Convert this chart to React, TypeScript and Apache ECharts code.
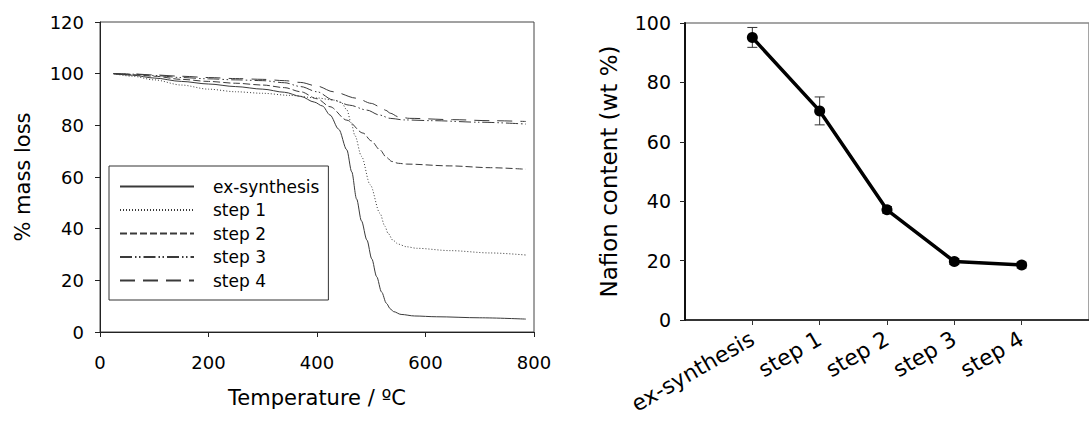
import React, { useEffect, useRef } from "react";
import * as echarts from "echarts";

// ---- Left panel: TGA curves (temperature °C, % mass) ----
const seriesNames = ["ex-synthesis", "step 1", "step 2", "step 3", "step 4"];

const exSynthesis: number[][] = [
  [25, 100], [60, 99.4], [100, 98.3], [150, 97], [200, 96], [250, 95], [300, 94],
  [340, 92.8], [370, 91.2], [395, 89], [410, 87.5], [424, 84], [440, 78.5],
  [455, 70.5], [464, 62], [473, 51.5], [482, 43], [492, 35.6], [501, 28.3],
  [510, 21.4], [519, 15.5], [528, 11.1], [535, 9], [541, 7.9], [555, 6.8],
  [580, 6.2], [620, 5.9], [700, 5.5], [785, 5],
];
const step1: number[][] = [
  [25, 100], [60, 99], [100, 97.6], [150, 95.6], [200, 94], [250, 93], [300, 92.4],
  [350, 91.6], [400, 90.6], [430, 89.8], [445, 88.8], [455, 86], [463, 81],
  [470, 76], [482, 68], [498, 57], [516, 46], [525, 41], [531, 38.2], [540, 35.5],
  [550, 34], [565, 33], [584, 32.4], [645, 31.5], [720, 30.6], [785, 29.8],
];
const step2: number[][] = [
  [25, 100], [60, 99.6], [100, 99], [150, 97.8], [200, 97], [250, 96.3], [300, 95.6],
  [340, 94.6], [370, 93], [400, 90.3], [424, 87.2], [455, 82], [485, 77], [500, 74],
  [516, 70.5], [528, 67.6], [538, 66], [550, 65.3], [565, 65], [645, 64.3],
  [720, 63.6], [785, 63],
];
const step3: number[][] = [
  [25, 100], [60, 99.8], [100, 99.3], [150, 98.5], [200, 98], [250, 97.6], [300, 97.3],
  [340, 96.5], [370, 95], [400, 93], [430, 89.8], [460, 87.8], [492, 85.9],
  [515, 84], [535, 82.7], [560, 82.1], [614, 81.8], [700, 81.2], [785, 80.5],
];
const step4: number[][] = [
  [25, 100], [60, 99.9], [100, 99.5], [150, 99], [200, 98.5], [250, 98.1], [300, 97.8],
  [340, 97.3], [370, 96.6], [400, 95.2], [430, 93], [473, 90.5], [500, 88.5],
  [516, 87.2], [527, 85.8], [535, 84.7], [550, 83.3], [571, 82.7], [650, 82.2],
  [720, 81.8], [785, 81.5],
];
const tgaData = [exSynthesis, step1, step2, step3, step4];
const dashTypes: any[] = ["solid", [1, 2], [7, 3], [12, 3, 1.5, 2.5, 1.5, 3], [15, 8]];

// ---- Right panel: Nafion content ----
const categories = ["ex-synthesis", "step 1", "step 2", "step 3", "step 4"];
const nafionContent = [95.1, 70.4, 37.1, 19.7, 18.5];
const errLow = [91.8, 65.7, 36.0, 18.7, 17.5];
const errHigh = [98.5, 75.1, 38.2, 20.7, 19.5];

export default function App() {
  const ref = useRef<HTMLDivElement>(null);
  useEffect(() => {
    if (!ref.current) return;
    const chart = echarts.init(ref.current, undefined, { renderer: "svg" });
    const font = "DejaVu Sans";
    const leftSeries = seriesNames.map((name, i) => ({
      name,
      type: "line",
      xAxisIndex: 0,
      yAxisIndex: 0,
      data: tgaData[i],
      symbol: "none",
      smooth: 0.3,
      smoothMonotone: "x",
      lineStyle: { color: "#3a3a3a", width: 1, type: dashTypes[i] },
      itemStyle: { color: "#3a3a3a" },
    }));
    const option: any = {
      animation: false,
      textStyle: { fontFamily: font, color: "#000" },
      grid: [
        { left: 100, top: 22, width: 434, height: 310, show: true, borderColor: "#444", borderWidth: 1 },
        { left: 685, top: 23, width: 414, height: 297, show: true, borderColor: "#888", borderWidth: 1.5 },
      ],
      legend: {
        data: seriesNames,
        orient: "vertical",
        left: 109,
        top: 166,
        itemWidth: 74,
        itemHeight: 12,
        itemGap: 6.5,
        padding: [12, 9, 11, 10],
        borderColor: "#333",
        borderWidth: 1,
        itemStyle: { opacity: 0 },
        textStyle: { fontSize: 17, color: "#000", fontFamily: font, padding: [0, 0, 0, 14], lineHeight: 17 },
      },
      xAxis: [
        {
          gridIndex: 0, type: "value", min: 0, max: 800, interval: 200,
          axisLine: { show: true, lineStyle: { color: "#222", width: 1 } },
          axisTick: { show: true, inside: false, length: 5, lineStyle: { color: "#222" } },
          splitLine: { show: false },
          axisLabel: { fontSize: 18, color: "#000", margin: 21, fontFamily: font },
          name: "Temperature / ºC", nameLocation: "middle", nameGap: 55,
          nameTextStyle: { fontSize: 21, color: "#000", fontFamily: font },
        },
        {
          gridIndex: 1, type: "value", min: 0, max: 6, interval: 1,
          axisLine: { show: true, onZero: false, lineStyle: { color: "#111", width: 1.5 } },
          axisTick: { show: true, inside: false, length: 5, customValues: [1, 2, 3, 4, 5], lineStyle: { color: "#333" } },
          splitLine: { show: false },
          axisLabel: {
            customValues: [1, 2, 3, 4, 5], rotate: 30, fontSize: 22, color: "#000", margin: 17, fontFamily: font,
            formatter: (v: number) => categories[Math.round(v) - 1] ?? "",
          },
        },
      ],
      yAxis: [
        {
          gridIndex: 0, type: "value", min: 0, max: 120, interval: 20,
          axisLine: { show: true, lineStyle: { color: "#222", width: 1 } },
          axisTick: { show: true, inside: false, length: 5, lineStyle: { color: "#222" } },
          splitLine: { show: false },
          axisLabel: { fontSize: 18, color: "#000", margin: 16, fontFamily: font },
          name: "% mass loss", nameLocation: "middle", nameGap: 67,
          nameTextStyle: { fontSize: 21, color: "#000", fontFamily: font },
        },
        {
          gridIndex: 1, type: "value", min: 0, max: 100, interval: 20,
          axisLine: { show: true, lineStyle: { color: "#111", width: 2 } },
          axisTick: { show: true, inside: false, length: 5, lineStyle: { color: "#222" } },
          splitLine: { show: false },
          axisLabel: { fontSize: 19, color: "#000", margin: 14, fontFamily: font },
          name: "Nafion content (wt %)", nameLocation: "middle", nameGap: 65,
          nameTextStyle: { fontSize: 23, color: "#000", fontFamily: font },
        },
      ],
      series: [
        ...leftSeries,
        {
          name: "error",
          type: "custom",
          xAxisIndex: 1,
          yAxisIndex: 1,
          z: 1,
          data: categories.map((_, i) => [i + 1, errLow[i], errHigh[i]]),
          encode: { x: 0, y: [1, 2] },
          renderItem: (_p: any, api: any) => {
            const x = api.value(0);
            const top = api.coord([x, api.value(2)]);
            const bot = api.coord([x, api.value(1)]);
            const w = 5;
            const st = { stroke: "#333", lineWidth: 1 };
            return {
              type: "group",
              children: [
                { type: "line", shape: { x1: top[0], y1: top[1], x2: bot[0], y2: bot[1] }, style: st },
                { type: "line", shape: { x1: top[0] - w, y1: top[1], x2: top[0] + w, y2: top[1] }, style: st },
                { type: "line", shape: { x1: bot[0] - w, y1: bot[1], x2: bot[0] + w, y2: bot[1] }, style: st },
              ],
            };
          },
        },
        {
          name: "Nafion content",
          type: "line",
          xAxisIndex: 1,
          yAxisIndex: 1,
          z: 3,
          data: categories.map((_, i) => [i + 1, nafionContent[i]]),
          symbol: "circle",
          symbolSize: 11,
          lineStyle: { color: "#000", width: 3.5 },
          itemStyle: { color: "#000" },
        },
      ],
    };
    chart.setOption(option);
    return () => chart.dispose();
  }, []);
  return (
    <div
      ref={ref}
      style={{ position: "absolute", left: 0, top: 0, width: 1089, height: 421, background: "#fff" }}
    />
  );
}
